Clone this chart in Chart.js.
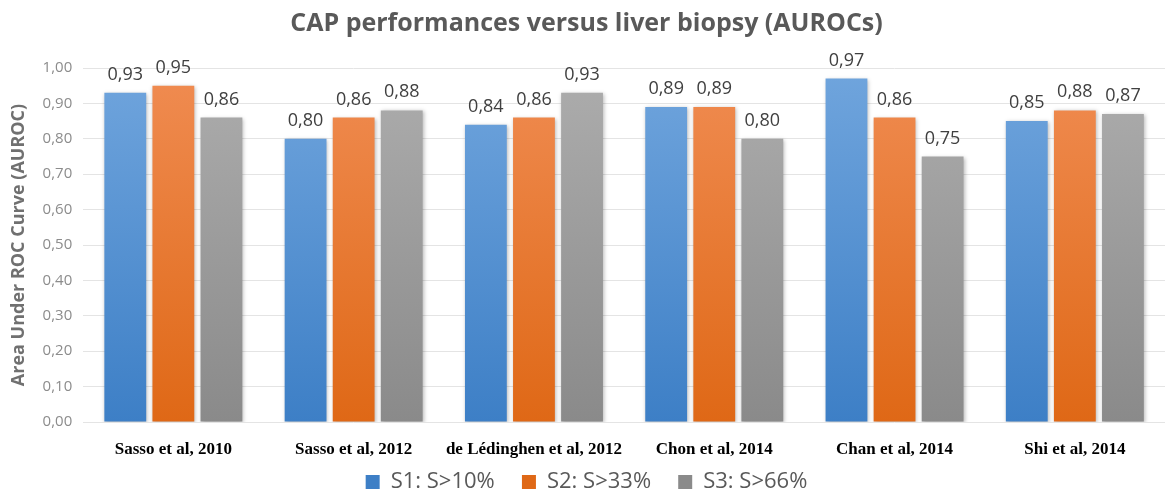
<!DOCTYPE html>
<html>
<head>
<meta charset="utf-8">
<script src="https://cdn.jsdelivr.net/npm/chart.js@4/dist/chart.umd.min.js"></script>
<style>
  html, body { margin: 0; padding: 0; background: #fff; }
  #wrap { width: 1169px; height: 493px; position: relative; }
</style>
</head>
<body>
<div id="wrap"><canvas id="auroc-chart"></canvas></div>
<script>
// Data
const studies = ['Sasso et al, 2010', 'Sasso et al, 2012', 'de Lédinghen et al, 2012', 'Chon et al, 2014', 'Chan et al, 2014', 'Shi et al, 2014'];
const s1 = [0.93, 0.80, 0.84, 0.89, 0.97, 0.85];
const s2 = [0.95, 0.86, 0.86, 0.89, 0.86, 0.88];
const s3 = [0.86, 0.88, 0.93, 0.80, 0.75, 0.87];
const seriesNames = ['S1: S>10%', 'S2: S>33%', 'S3: S>66%'];

const fmt = v => v.toFixed(2).replace('.', ',');

function grad(top, bottom) {
    return function (ctx) {
        const area = ctx.chart.chartArea;
        if (!area) return bottom;
        const g = ctx.chart.ctx.createLinearGradient(0, area.top, 0, area.bottom);
        g.addColorStop(0, top);
        g.addColorStop(1, bottom);
        return g;
    };
}

// soft shadow under the bars, like the office chart
const barShadow = {
    id: 'barShadow',
    beforeDatasetsDraw(chart) {
        const ctx = chart.ctx;
        ctx.save();
        ctx.shadowColor = 'rgba(0,0,0,0.28)';
        ctx.shadowBlur = 4;
        ctx.shadowOffsetX = 1;
        ctx.shadowOffsetY = 1;
    },
    afterDatasetsDraw(chart) {
        chart.ctx.restore();
    }
};

// value labels above bars
const barLabels = {
    id: 'barLabels',
    afterDatasetsDraw(chart) {
        const ctx = chart.ctx;
        ctx.save();
        ctx.font = '18px "Open Sans", sans-serif';
        ctx.fillStyle = '#404040';
        ctx.textAlign = 'center';
        ctx.textBaseline = 'alphabetic';
        chart.data.datasets.forEach((ds, i) => {
            chart.getDatasetMeta(i).data.forEach((bar, j) => {
                ctx.fillText(fmt(ds.data[j]), bar.x, bar.y - 13);
            });
        });
        ctx.restore();
    }
};

new Chart(document.getElementById('auroc-chart'), {
    type: 'bar',
    data: {
        labels: studies,
        datasets: [
            { label: seriesNames[0], data: s1, backgroundColor: grad('#70a5dd', '#3d7fc6') },
            { label: seriesNames[1], data: s2, backgroundColor: grad('#f08c52', '#df6816') },
            { label: seriesNames[2], data: s3, backgroundColor: grad('#adadad', '#8a8a8a') }
        ]
    },
    options: {
        responsive: true,
        maintainAspectRatio: false,
        animation: false,
        layout: { padding: { left: 8, right: 4, top: 0, bottom: -10 } },
        datasets: {
            bar: { categoryPercentage: 0.8, barPercentage: 0.87 }
        },
        scales: {
            x: {
                grid: { display: false, drawTicks: false },
                border: { display: false },
                afterFit(scale) { scale.height = 39; },
                ticks: {
                    color: '#000',
                    font: { family: '"Liberation Serif", serif', size: 17, weight: 'bold' },
                    padding: 17,
                    maxRotation: 0,
                    minRotation: 0,
                    autoSkip: false
                }
            },
            y: {
                min: 0,
                max: 1,
                ticks: {
                    stepSize: 0.1,
                    color: '#8c8c8c',
                    font: { family: '"Open Sans", sans-serif', size: 15 },
                    padding: 11,
                    callback: v => fmt(v)
                },
                grid: { color: '#e4e4e4', drawTicks: false },
                border: { display: false },
                title: {
                    display: true,
                    text: 'Area Under ROC Curve (AUROC)',
                    color: '#707070',
                    font: { family: '"Open Sans", sans-serif', size: 18, weight: 'bold' },
                    padding: { top: 0, bottom: 2 }
                }
            }
        },
        plugins: {
            title: {
                display: true,
                text: 'CAP performances versus liver biopsy (AUROCs)',
                color: '#595959',
                font: { family: '"Open Sans", sans-serif', size: 25, weight: 'bold' },
                padding: { top: 9, bottom: 29 }
            },
            legend: {
                position: 'bottom',
                labels: {
                    color: '#595959',
                    font: { family: '"Open Sans", sans-serif', size: 22 },
                    boxWidth: 14,
                    boxHeight: 14,
                    padding: 10,
                    // wider gap between legend items
                    generateLabels(chart) {
                        const items = Chart.defaults.plugins.legend.labels.generateLabels(chart);
                        return items.map((it, i) => {
                            if (i < items.length - 1) it.text = it.text + '   ';
                            return it;
                        });
                    }
                }
            },
            tooltip: { enabled: false }
        }
    },
    plugins: [barShadow, barLabels]
});
</script>
</body>
</html>
